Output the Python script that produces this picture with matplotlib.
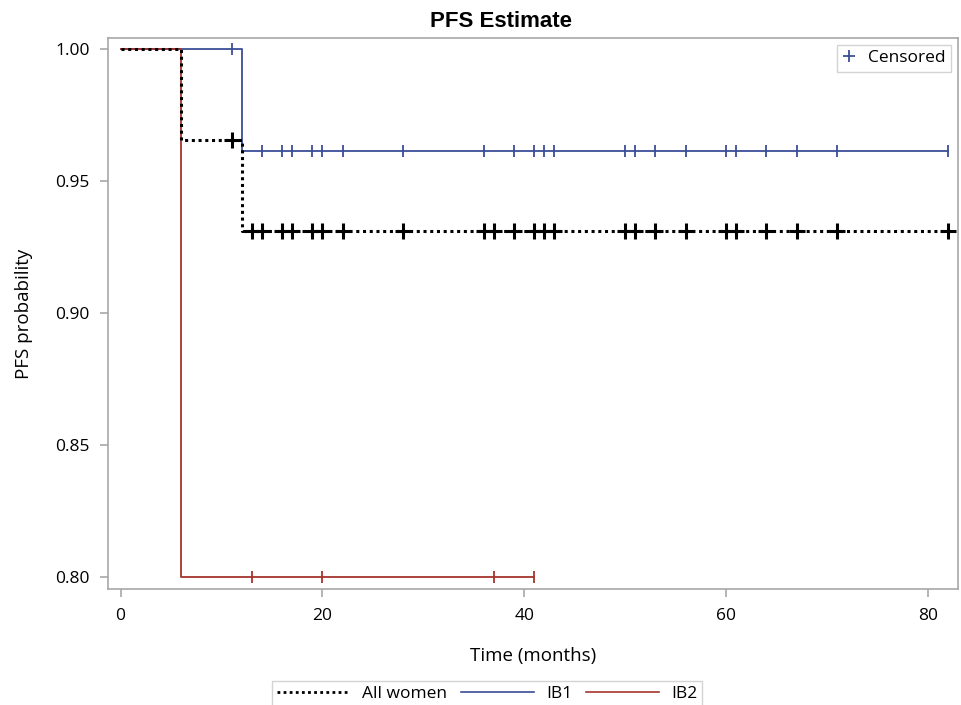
import numpy as np
import matplotlib
matplotlib.use("Agg")
import matplotlib.pyplot as plt
from matplotlib.lines import Line2D

plt.rcParams['font.family'] = ['Open Sans', 'DejaVu Sans']

# step curves: (time, survival) at each event, plus censored times
all_times = [0, 6, 12, 82]
all_surv = [1.0, 0.9655, 0.9310, 0.9310]
all_cens = [11, 13, 14, 16, 17, 19, 20, 22, 28, 36, 37, 39, 41, 42, 43,
            50, 51, 53, 56, 60, 61, 64, 67, 71, 82]

ib1_times = [0, 12, 82]
ib1_surv = [1.0, 0.9615, 0.9615]
ib1_cens = [11, 14, 16, 17, 19, 20, 22, 28, 36, 39, 41, 42, 43,
            50, 51, 53, 56, 60, 61, 64, 67, 71, 82]

ib2_times = [0, 6, 41]
ib2_surv = [1.0, 0.80, 0.80]
ib2_cens = [13, 20, 37, 41]

blue = '#3a4d97'
red = '#a5352d'
grey = '#a8a8a8'


def surv_at(times, surv, t):
    idx = np.searchsorted(times, t, side='right') - 1
    return np.array(surv)[idx]


fig = plt.figure(figsize=(9.61, 7.05), dpi=100)
ax = fig.add_axes([108 / 961, 1 - 589 / 705, 850 / 961, 551 / 705])

ax.step(ib1_times, ib1_surv, where='post', color=blue, lw=1.3, zorder=2)
ax.plot(ib1_cens, surv_at(ib1_times, ib1_surv, ib1_cens), ls='none',
        marker='|', ms=9, mew=1.3, color=blue, zorder=2)

ax.step(ib2_times, ib2_surv, where='post', color=red, lw=1.3, zorder=3)
ax.plot(ib2_cens, surv_at(ib2_times, ib2_surv, ib2_cens), ls='none',
        marker='|', ms=9, mew=1.3, color=red, zorder=3)

ax.step(all_times, all_surv, where='post', color='black', lw=2.2,
        ls=(0, (1, 1.2)), zorder=4)
ax.plot(all_cens, surv_at(all_times, all_surv, all_cens), ls='none',
        marker='+', ms=11, mew=2.2, color='black', zorder=5)

ax.set_xlim(-1.25, 83.0)
ax.set_ylim(0.7955, 1.0042)
ax.set_xticks([0, 20, 40, 60, 80])
ax.set_yticks([0.80, 0.85, 0.90, 0.95, 1.00])
ax.set_yticklabels(['0.80', '0.85', '0.90', '0.95', '1.00'])
ax.tick_params(direction='out', length=6, width=1.2, color=grey,
               labelsize=12.5)
ax.tick_params(axis='x', pad=8)
ax.tick_params(axis='y', pad=7)
for s in ax.spines.values():
    s.set_color(grey)
    s.set_linewidth(1.2)

fig.text(501 / 961, 1 - 27 / 705, 'PFS Estimate', ha='center', va='baseline',
         fontsize=16, fontweight='bold',
         family=['Liberation Sans', 'DejaVu Sans'])
ax.set_xlabel('Time (months)', fontsize=13.5, labelpad=16)
ax.set_ylabel('PFS probability', fontsize=13.5, labelpad=16)

cens_handle = Line2D([], [], ls='none', marker='+', ms=8, mew=1.3, color=blue)
leg1 = ax.legend([cens_handle], ['Censored'], loc='upper right',
                 fontsize=12.5, frameon=True, fancybox=False,
                 edgecolor='#c8c8c8', borderpad=0.3, handlelength=0.8,
                 handletextpad=0.7, borderaxespad=0.4)
leg1.get_frame().set_linewidth(1.0)

handles = [Line2D([], [], color='black', lw=2.0, ls=(0, (1, 1.2))),
           Line2D([], [], color=blue, lw=1.2),
           Line2D([], [], color=red, lw=1.2)]
leg2 = fig.legend(handles, ['All women', 'IB1', 'IB2'], loc='lower center',
                  bbox_to_anchor=(487 / 961, -0.014), ncol=3, fontsize=12.5,
                  frameon=True, fancybox=False, edgecolor='#c8c8c8',
                  borderpad=0.25, handlelength=4.2, handletextpad=0.7,
                  columnspacing=0.8)
leg2.get_frame().set_linewidth(1.0)

fig.savefig('out.png', dpi=100)
